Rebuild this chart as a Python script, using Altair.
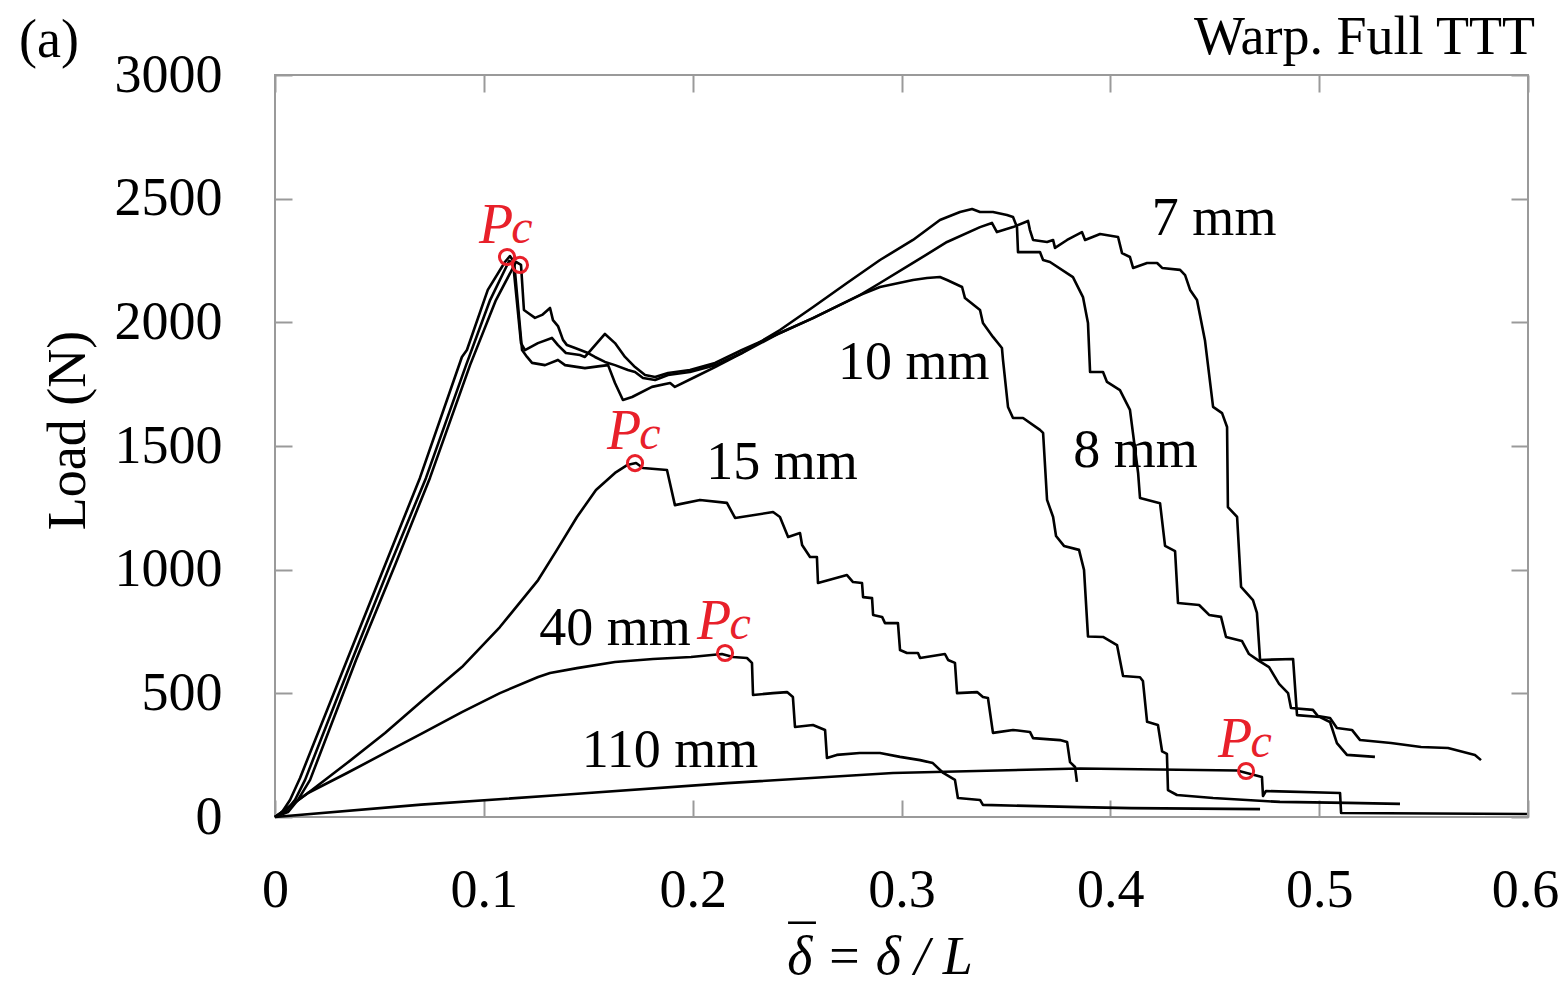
import altair as alt
import pandas as pd

FONT = "Liberation Serif"
RED = "#e8202a"
GRAY = "#9a9a9a"

# ---------------- data ----------------
x_7mm = [0, 0.0048, 0.0096, 0.0144, 0.0369, 0.0551, 0.0723, 0.0915, 0.103, 0.1121,
         0.114, 0.1178, 0.1197, 0.1259, 0.1326, 0.1355, 0.1393, 0.146, 0.1484, 0.158,
         0.1628, 0.1676, 0.1724, 0.1772, 0.182, 0.1882, 0.1987, 0.2107, 0.2236, 0.2418,
         0.2576, 0.2801, 0.2897, 0.3055, 0.3218, 0.3376, 0.3433, 0.3457, 0.3534, 0.3606,
         0.3615, 0.363, 0.3697, 0.3726, 0.3735, 0.3793, 0.3864, 0.3879, 0.3951, 0.4037,
         0.4056, 0.4094, 0.4109, 0.4176, 0.4224, 0.4248, 0.4334, 0.4358, 0.4382, 0.4415,
         0.4453, 0.4492, 0.4535, 0.4559, 0.4563, 0.4607, 0.4626, 0.4683, 0.4702, 0.4717,
         0.4875, 0.4894, 0.5004, 0.5052, 0.5085, 0.5133, 0.5267]
y_7mm = [0, 20, 69, 150, 635, 1019, 1371, 1827, 2090, 2248,
         2240, 1916, 1888, 1916, 1937, 1908, 1876, 1868, 1860, 1953,
         1916, 1860, 1819, 1787, 1779, 1795, 1807, 1836, 1888, 1957,
         2017, 2110, 2159, 2240, 2325, 2385, 2402, 2365, 2385, 2410,
         2373, 2333, 2325, 2333, 2301, 2333, 2365, 2333, 2357, 2345,
         2280, 2264, 2220, 2240, 2240, 2220, 2212, 2191, 2131, 2090,
         1928, 1658, 1633, 1577, 1253, 1213, 930, 877, 825, 635,
         639, 412, 404, 384, 299, 251, 243]

x_8mm = [0, 0.0034, 0.0072, 0.012, 0.0345, 0.0527, 0.0694, 0.0895, 0.0919, 0.1019,
         0.1101, 0.1125, 0.1145, 0.1183, 0.1207, 0.1231, 0.1293, 0.1355, 0.1389, 0.1484,
         0.1556, 0.1595, 0.1628, 0.1666, 0.171, 0.1805, 0.1892, 0.1915, 0.2011, 0.2107,
         0.2236, 0.2418, 0.2577, 0.2739, 0.2897, 0.3055, 0.3184, 0.328, 0.3338, 0.3376,
         0.3438, 0.3505, 0.3534, 0.3553, 0.3558, 0.3663, 0.3678, 0.3711, 0.3821, 0.3869,
         0.3893, 0.3903, 0.3965, 0.3984, 0.4046, 0.4094, 0.4133, 0.4142, 0.4238, 0.4262,
         0.431, 0.4324, 0.4425, 0.4473, 0.453, 0.4554, 0.463, 0.4664, 0.4712, 0.476,
         0.4808, 0.4851, 0.4865, 0.497, 0.4994, 0.5052, 0.5085, 0.5157, 0.5196, 0.5344,
         0.5488, 0.5617, 0.5746, 0.5775]
y_8mm = [0, 20, 69, 158, 635, 1019, 1371, 1860, 1888, 2131,
         2244, 2268, 2244, 1888, 1860, 1836, 1827, 1848, 1827, 1815,
         1823, 1827, 1755, 1686, 1698, 1739, 1755, 1739, 1779, 1819,
         1876, 1969, 2062, 2159, 2252, 2333, 2414, 2446, 2458, 2446,
         2446, 2434, 2426, 2385, 2284, 2284, 2252, 2244, 2183, 2102,
         1997, 1799, 1799, 1759, 1726, 1646, 1391, 1290, 1269, 1096,
         1075, 865, 857, 817, 809, 728, 712, 659, 631, 606,
         538, 501, 441, 433, 408, 400, 360, 352, 311, 299,
         283, 279, 251, 230]

x_10mm = [0, 0.0062, 0.011, 0.0168, 0.0388, 0.0575, 0.0742, 0.0934, 0.1058, 0.1154,
          0.1178, 0.1192, 0.1212, 0.1245, 0.1279, 0.1317, 0.1331, 0.1355, 0.1379, 0.1398,
          0.1437, 0.1499, 0.1532, 0.158, 0.1628, 0.169, 0.1724, 0.1762, 0.182, 0.1882,
          0.1987, 0.2107, 0.2236, 0.2418, 0.2576, 0.2801, 0.2897, 0.3055, 0.3122, 0.3184,
          0.3218, 0.329, 0.3304, 0.3376, 0.339, 0.3438, 0.3481, 0.3486, 0.351, 0.3534,
          0.3582, 0.3663, 0.3678, 0.3697, 0.3726, 0.374, 0.3778, 0.385, 0.3874, 0.3893,
          0.3965, 0.4032, 0.4061, 0.4142, 0.4156, 0.4176, 0.4228, 0.4248, 0.4271, 0.4276,
          0.4319, 0.4492, 0.4812, 0.5133, 0.5387]
y_10mm = [0, 20, 69, 150, 635, 1019, 1371, 1827, 2090, 2244,
          2232, 2050, 2038, 2018, 2030, 2058, 2009, 1985, 1929, 1908,
          1896, 1876, 1860, 1840, 1827, 1807, 1799, 1775, 1767, 1787,
          1799, 1827, 1876, 1957, 2017, 2110, 2143, 2171, 2179, 2183,
          2171, 2143, 2098, 2050, 1997, 1941, 1896, 1848, 1658, 1613,
          1613, 1565, 1553, 1282, 1213, 1136, 1096, 1080, 999, 730,
          728, 695, 570, 565, 550, 385, 372, 265, 255, 109,
          89, 77, 61, 57, 53]

x_15mm = [0, 0.0158, 0.0345, 0.0527, 0.0709, 0.0895, 0.1077, 0.126, 0.135, 0.1446,
          0.1537, 0.1628, 0.1686, 0.1729, 0.1762, 0.1877, 0.1915, 0.2035, 0.2164, 0.2203,
          0.2385, 0.2418, 0.2457, 0.2514, 0.2524, 0.2562, 0.2595, 0.26, 0.2739, 0.2768,
          0.2811, 0.2816, 0.2859, 0.2864, 0.2907, 0.2921, 0.2983, 0.2993, 0.3026, 0.3079,
          0.3089, 0.3208, 0.3223, 0.3256, 0.3266, 0.3362, 0.339, 0.3414, 0.3438, 0.3534,
          0.3615, 0.363, 0.3759, 0.3793, 0.3807, 0.3831, 0.384]
y_15mm = [0, 97, 218, 340, 473, 606, 768, 958, 1080, 1213,
          1322, 1391, 1423, 1431, 1411, 1403, 1261, 1282, 1270, 1209,
          1233, 1213, 1132, 1148, 1100, 1051, 1051, 946, 978, 950,
          946, 889, 885, 817, 809, 784, 784, 675, 663, 663,
          643, 659, 635, 623, 501, 505, 485, 481, 340, 352,
          344, 319, 311, 303, 222, 202, 142]

x_40mm = [0, 0.0158, 0.0345, 0.0527, 0.0709, 0.0895, 0.1077, 0.126, 0.1317, 0.1446,
          0.1628, 0.181, 0.1992, 0.214, 0.2193, 0.226, 0.2284, 0.2289, 0.2385, 0.2452,
          0.248, 0.249, 0.2576, 0.2634, 0.2643, 0.269, 0.28, 0.2897, 0.2993, 0.3089,
          0.315, 0.32, 0.3256, 0.327, 0.3376, 0.339, 0.3855, 0.41, 0.4717]
y_40mm = [0, 97, 178, 259, 340, 424, 501, 566, 582, 602,
          627, 639, 647, 659, 647, 643, 623, 493, 501, 505,
          485, 364, 372, 352, 239, 251, 259, 259, 243, 230,
          218, 178, 150, 77, 69, 49, 40, 36, 32]

x_110mm = [0, 0.07, 0.1365, 0.2164, 0.2959, 0.3855, 0.4607, 0.4726, 0.4731, 0.4745,
           0.51, 0.5105, 0.5995]
y_110mm = [0, 50, 89, 137, 178, 196, 188, 162, 85, 105,
           97, 16, 12]

series_names = ["7 mm", "8 mm", "10 mm", "15 mm", "40 mm", "110 mm"]
series_x = [x_7mm, x_8mm, x_10mm, x_15mm, x_40mm, x_110mm]
series_y = [y_7mm, y_8mm, y_10mm, y_15mm, y_40mm, y_110mm]

# curve labels (text, anchor in data units)
label_text = ["7 mm", "10 mm", "15 mm", "8 mm", "40 mm", "110 mm"]
label_x = [0.4497, 0.3059, 0.2428, 0.412, 0.1628, 0.1892]
label_y = [2418, 1835, 1431, 1480, 760, 267]

# critical loads Pc
pc_x = [0.1111, 0.1173, 0.1724, 0.2155, 0.465]
pc_y = [2264, 2232, 1431, 663, 186]
pc_labeled = [True, False, True, True, True]

x_ticks = [0, 0.1, 0.2, 0.3, 0.4, 0.5, 0.6]
y_ticks = [0, 500, 1000, 1500, 2000, 2500, 3000]

# ---------------- tables ----------------
rows = []
for name, xs, ys in zip(series_names, series_x, series_y):
    for i, (xv, yv) in enumerate(zip(xs, ys)):
        rows.append({"series": name, "order": i, "x": xv, "y": yv})
df = pd.DataFrame(rows)
lab_df = pd.DataFrame({"label": label_text, "x": label_x, "y": label_y})
pc_df = pd.DataFrame({"x": pc_x, "y": pc_y, "lab": pc_labeled})
pc_lab_df = pc_df[pc_df["lab"]].reset_index(drop=True)

xscale = alt.Scale(domain=[0, 0.6], nice=False, zero=False)
yscale = alt.Scale(domain=[0, 3000], nice=False)

tick_grid = dict(grid=True, gridColor=GRAY, gridWidth=2, gridDash=[17, 4000],
                 gridOpacity=1, ticks=False, domain=False)

bottom_axis = alt.Axis(orient="bottom", values=x_ticks, format="~g",
                       labelPadding=46, labelFlush=False,
                       labelOffset={"condition": {"test": "datum.value >= 0.59", "value": -3},
                                    "value": 0},
                       title=None, **tick_grid)
left_axis = alt.Axis(orient="left", values=y_ticks, format="d",
                     labelPadding=53, labelFlush=False, title="Load (N)", titleAngle=-90,
                     titleX=-191, titleY=355, titleBaseline="alphabetic",
                     titleAlign="center", **tick_grid)
top_axis = alt.Axis(orient="top", values=x_ticks, labels=False, title=None, **tick_grid)
right_axis = alt.Axis(orient="right", values=y_ticks, labels=False, title=None, **tick_grid)

lines = alt.Chart(df).mark_line(color="black", strokeWidth=2.6, strokeJoin="round").encode(
    x=alt.X("x:Q", scale=xscale, axis=bottom_axis),
    y=alt.Y("y:Q", scale=yscale, axis=left_axis),
    detail="series:N",
    order="order:Q",
)

pc_pts = alt.Chart(pc_df).mark_point(shape="circle", size=230, filled=False,
                                     color=RED, strokeWidth=3, opacity=1).encode(
    x=alt.X("x:Q", scale=xscale, axis=top_axis),
    y=alt.Y("y:Q", scale=yscale, axis=right_axis),
)

pc_P = alt.Chart(pc_lab_df).mark_text(text="P", font=FONT, fontStyle="italic",
                                      fontSize=56, color=RED, dx=-11, dy=-14,
                                      baseline="alphabetic", align="center").encode(
    x=alt.X("x:Q", scale=xscale, axis=None),
    y=alt.Y("y:Q", scale=yscale, axis=None),
)
pc_c = alt.Chart(pc_lab_df).mark_text(text="c", font=FONT, fontStyle="italic",
                                      fontSize=48, color=RED, dx=15, dy=-14,
                                      baseline="alphabetic", align="center").encode(
    x=alt.X("x:Q", scale=xscale, axis=None),
    y=alt.Y("y:Q", scale=yscale, axis=None),
)

labels = alt.Chart(lab_df).mark_text(font=FONT, fontSize=54, color="black",
                                     align="center", baseline="middle").encode(
    x=alt.X("x:Q", scale=xscale, axis=None),
    y=alt.Y("y:Q", scale=yscale, axis=None),
    text="label:N",
)

# annotation texts placed in pixels relative to the plot area
panel = alt.Chart(pd.DataFrame({"t": ["(a)"]})).mark_text(
    font=FONT, fontSize=54, color="black", align="center", baseline="alphabetic"
).encode(x=alt.value(-226), y=alt.value(-18), text="t:N")

corner = alt.Chart(pd.DataFrame({"t": ["Warp. Full TTT"]})).mark_text(
    font=FONT, fontSize=54, color="black", align="right", baseline="alphabetic"
).encode(x=alt.value(1260), y=alt.value(-21), text="t:N")

xtitle = alt.Chart(pd.DataFrame({"t": ["δ = δ / L"]})).mark_text(
    font=FONT, fontSize=54, fontStyle="italic", color="black",
    align="center", baseline="alphabetic"
).encode(x=alt.value(605), y=alt.value(899), text="t:N")

xbar = alt.Chart(pd.DataFrame({"t": ["¯"]})).mark_text(
    font=FONT, fontSize=54, color="black", align="center", baseline="alphabetic"
).encode(x=alt.value(527), y=alt.value(888), text="t:N")

chart = alt.layer(lines, pc_pts, pc_P, pc_c, labels, panel, corner, xtitle, xbar).resolve_axis(
    x="independent", y="independent"
).properties(
    width=1253,
    height=742,
    padding={"left": 267, "top": 67, "right": 31, "bottom": 160},
    autosize=alt.AutoSizeParams(type="none"),
).configure_view(
    stroke=GRAY, strokeWidth=2
).configure_axis(
    labelFont=FONT, labelFontSize=54, labelColor="black",
    titleFont=FONT, titleFontSize=54, titleFontWeight="normal", titleColor="black",
)

chart.save("out.html", embed_options={"renderer": "svg", "actions": False})
